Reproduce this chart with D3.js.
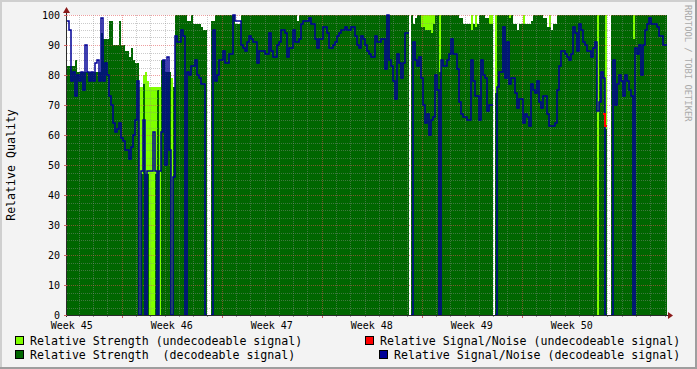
<!DOCTYPE html>
<html><head><meta charset="utf-8">
<script src="https://cdn.jsdelivr.net/npm/d3@7"></script>
<style>
html,body{margin:0;padding:0;background:#f3f3f3;}
svg{display:block;}
text{font-family:"DejaVu Sans Mono",monospace;}
</style>
</head><body>
<svg id="c" width="697" height="369"></svg>
<script>
const _ = null;
// time axis: 42 days shown, 300 samples (3.36 h each)
const totalDays = 42;
const weekLabels = ["Week 45","Week 46","Week 47","Week 48","Week 49","Week 50"];
const weekStarts = [-3.17, 3.83, 10.83, 17.83, 24.83, 31.83]; // days from graph start
const yTicks = [0,10,20,30,40,50,60,70,80,90,100];

// Relative Strength (decodeable signal)
const strengthDecodeable = [
83,83,83,83,85,81,81,81,81,81,
81,81,81,81,81,81,81,94,92,92,
92,98,98,90,90,90,98,90,90,88,
88,86,89,85,84,84,0,47,77,47,
47,0,0,0,47,75,0,85,85,81,
81,81,0,76,100,100,100,100,100,100,
98,98,100,97,97,97,97,96,95,95,
_,_,98,98,100,100,100,100,100,100,
100,100,100,100,97,97,97,100,100,100,
100,100,100,100,100,100,100,100,100,100,
100,100,100,100,100,100,100,100,100,100,
100,100,100,100,100,98,100,100,100,100,
100,100,100,100,100,100,100,100,100,100,
100,100,100,100,100,100,100,100,100,100,
100,100,100,100,100,100,100,100,100,100,
100,100,100,100,100,100,100,100,100,100,
100,100,100,100,100,100,100,100,100,100,
100,_,100,97,99,100,100,96,96,95,
95,95,94,97,100,100,81,100,100,100,
100,100,100,100,100,100,99,99,97,97,
97,97,95,97,96,97,100,100,100,99,
99,97,97,_,74,100,100,100,100,100,
100,99,100,97,97,95,97,97,97,97,
97,97,98,100,100,100,100,100,99,99,
96,96,95,97,97,100,100,100,100,100,
100,100,100,100,100,100,100,100,100,100,
100,100,100,100,100,0,100,100,100,62,
_,_,100,100,100,100,100,100,100,100,
100,100,100,92,100,100,100,100,100,100,
100,100,100,100,100,100,100,100,100,100
];

// Relative Strength (undecodeable signal)
const strengthUndecodeable = [
_,_,_,_,_,_,_,_,_,_,
_,_,_,_,_,_,_,_,_,_,
_,_,_,_,_,_,_,_,_,_,
_,_,_,_,_,_,76,76,80,81,
78,76,76,76,76,76,76,_,_,_,
_,_,79,_,_,_,_,_,_,_,
_,_,_,_,_,_,_,_,_,_,
_,_,_,_,_,_,_,_,_,_,
_,_,_,_,_,_,_,_,_,_,
_,_,_,_,_,_,_,_,_,_,
_,_,_,_,_,_,_,_,_,_,
_,_,_,_,_,_,_,_,_,_,
_,_,_,_,_,_,_,_,_,_,
_,_,_,_,_,_,_,_,_,_,
_,_,_,_,_,_,_,_,_,_,
_,_,_,_,_,_,_,_,_,_,
_,_,_,_,_,_,_,_,_,_,
_,_,_,_,_,_,_,100,100,100,
100,100,100,100,_,_,100,_,_,_,
_,_,_,_,_,_,_,_,_,_,
_,_,100,_,100,_,_,_,_,_,
_,100,100,_,100,_,_,_,_,_,
_,100,_,_,_,_,_,_,100,_,
_,_,_,_,_,_,_,_,_,_,
_,100,_,_,_,_,_,_,_,_,
_,_,_,_,_,_,_,_,_,_,
_,_,_,_,_,100,_,_,_,100,
_,_,_,_,_,_,_,_,_,_,
_,_,_,100,_,_,_,_,_,_,
_,_,_,_,_,_,_,_,_,_
];

// Relative Signal/Noise (decodeable signal)
const snrDecodeable = [
98,95,78,81,73,80,78,81,75,90,
81,78,81,78,84,85,78,99,78,84,
80,73,70,64,61,62,64,59,58,55,
55,52,56,60,65,78,0,48,65,0,
48,48,48,61,48,0,48,61,85,50,
86,55,0,46,93,91,91,95,93,0,
81,80,83,83,85,80,79,77,77,0,
_,_,0,95,78,80,85,85,88,84,
84,87,87,100,98,98,98,90,89,88,
91,93,92,91,91,84,88,88,88,87,
87,94,88,86,86,90,91,95,95,94,
86,89,89,95,91,91,92,97,98,98,
98,99,97,97,92,89,92,92,96,96,
94,89,89,90,91,93,94,95,95,96,
95,95,96,96,93,90,89,93,92,90,
88,87,86,86,93,91,91,92,92,82,
100,85,83,78,72,87,84,79,84,94,
94,_,0,91,85,83,86,79,70,64,
67,60,65,66,80,75,0,85,83,83,
85,87,92,87,87,82,71,67,66,66,
65,65,85,78,73,73,65,85,80,79,
68,70,70,_,0,76,81,81,96,79,
91,77,79,79,74,69,72,72,64,67,
66,63,77,75,74,78,71,69,73,73,
67,63,63,63,64,75,83,88,88,87,
86,85,87,96,94,88,97,95,91,90,
88,88,86,89,91,68,71,81,79,0,
_,_,0,85,70,77,80,78,73,80,
78,75,73,0,89,87,90,80,90,95,
97,99,97,97,97,96,93,93,90,90
];

// Relative Signal/Noise (undecodeable signal): only a short visible stretch
const snrUndecodeableSamples = [[268, 67], [269, 63]]; // [sample index, value]
const snrUndecodeable = new Array(strengthDecodeable.length).fill(_);
snrUndecodeableSamples.forEach(([i, v]) => { snrUndecodeable[i] = v; });

const legendItems = [
  {label: "Relative Strength (undecodeable signal)", color: "#80ff00", col: 0, row: 0},
  {label: "Relative Strength  (decodeable signal)", color: "#006600", col: 0, row: 1},
  {label: "Relative Signal/Noise (undecodeable signal)", color: "#ff0000", col: 1, row: 0},
  {label: "Relative Signal/Noise (decodeable signal)", color: "#000096", col: 1, row: 1}
];

const W = 697, H = 369;
const svg = d3.select("#c");
const x = d3.scaleLinear().domain([0, totalDays]).range([67, 667]);
const y = d3.scaleLinear().domain([0, 100]).range([315, 15]);
const step = totalDays / strengthDecodeable.length;

// background and 3D border
svg.append("rect").attr("width", W).attr("height", H).attr("fill", "#f3f3f3");
svg.append("rect").attr("x", 0).attr("y", 0).attr("width", W).attr("height", 2).attr("fill", "#cfcfcf");
svg.append("rect").attr("x", 0).attr("y", 0).attr("width", 2).attr("height", H).attr("fill", "#cfcfcf");
svg.append("rect").attr("x", 0).attr("y", H - 2).attr("width", W).attr("height", 2).attr("fill", "#9e9e9e");
svg.append("rect").attr("x", W - 2).attr("y", 0).attr("width", 2).attr("height", H).attr("fill", "#9e9e9e");

// plot canvas
svg.append("rect").attr("x", x(0)).attr("y", y(100)).attr("width", x(totalDays) - x(0)).attr("height", y(0) - y(100)).attr("fill", "#ffffff");

function toPts(arr) {
  const pts = [];
  arr.forEach((v, i) => {
    if (v == null) pts.push({t: i * step, v: null});
    else { pts.push({t: i * step, v}); pts.push({t: (i + 1) * step, v}); }
  });
  return pts;
}
const area = d3.area().defined(d => d.v != null).x(d => x(d.t)).y0(y(0)).y1(d => y(d.v));
const line = d3.line().defined(d => d.v != null).x(d => x(d.t)).y(d => y(d.v));

svg.append("path").attr("d", area(toPts(strengthUndecodeable))).attr("fill", "#80ff00").attr("shape-rendering", "crispEdges");
svg.append("path").attr("d", area(toPts(strengthDecodeable))).attr("fill", "#006600").attr("shape-rendering", "crispEdges");

// grid
const grid = svg.append("g");
const minorC = "rgba(140,140,140,0.45)", majorC = "rgba(224,80,80,0.55)";
for (let v = 0; v <= 100; v += 2.5) {
  const yy = Math.round(y(v)) + 0.5;
  grid.append("line").attr("x1", x(0)).attr("x2", x(totalDays)).attr("y1", yy).attr("y2", yy)
    .attr("stroke", v % 10 === 0 ? majorC : minorC).attr("stroke-dasharray", "1,1");
}
for (let d = weekStarts[0]; d <= totalDays; d += 1) {
  if (d < 0) continue;
  const isMajor = weekStarts.some(w => Math.abs(w - d) < 1e-6);
  const xx = Math.round(x(d)) + 0.5;
  grid.append("line").attr("x1", xx).attr("x2", xx).attr("y1", y(100)).attr("y2", y(0))
    .attr("stroke", isMajor ? majorC : minorC).attr("stroke-dasharray", "1,1");
  grid.append("line").attr("x1", xx).attr("x2", xx).attr("y1", y(0)).attr("y2", y(0) + (isMajor ? 3 : 2))
    .attr("stroke", isMajor ? "#d06060" : "#999");
}

// lines
svg.append("path").attr("d", line(toPts(snrDecodeable))).attr("fill", "none").attr("stroke", "#000096").attr("stroke-width", 1.5);
svg.append("path").attr("d", line(toPts(snrUndecodeable))).attr("fill", "none").attr("stroke", "#ff0000").attr("stroke-width", 2);

// axes
svg.append("line").attr("x1", x(0) - 0.5).attr("x2", x(totalDays) + 2).attr("y1", y(0) + 0.5).attr("y2", y(0) + 0.5).attr("stroke", "#2a2a2a");
svg.append("line").attr("x1", x(0) - 0.5).attr("x2", x(0) - 0.5).attr("y1", y(0) + 2).attr("y2", y(100) - 3).attr("stroke", "#2a2a2a");
svg.append("path").attr("d", `M${x(totalDays) + 1},${y(0) - 3}L${x(totalDays) + 6},${y(0) + 0.5}L${x(totalDays) + 1},${y(0) + 4}Z`).attr("fill", "#8b1a1a");
svg.append("path").attr("d", `M${x(0) - 4},${y(100) - 2}L${x(0) - 0.5},${y(100) - 8}L${x(0) + 3},${y(100) - 2}Z`).attr("fill", "#8b1a1a");

// y ticks & labels
yTicks.forEach(v => {
  const yy = Math.round(y(v)) + 0.5;
  svg.append("line").attr("x1", x(0) - 3).attr("x2", x(0)).attr("y1", yy).attr("y2", yy).attr("stroke", "#d06060");
  svg.append("text").attr("x", 60).attr("y", y(v) + 3.5).attr("text-anchor", "end").attr("font-size", 10).attr("fill", "#000").text(v);
});

// x labels (centered mid-week)
weekLabels.forEach((lab, k) => {
  svg.append("text").attr("x", x(weekStarts[k] + 3.5)).attr("y", 328.5).attr("text-anchor", "middle").attr("font-size", 10).attr("fill", "#000").text(lab);
});

// y title
svg.append("text").attr("transform", `translate(15,${165}) rotate(-90)`).attr("text-anchor", "middle").attr("font-size", 11.6).attr("fill", "#000").text("Relative Quality");

// watermark
svg.append("text").attr("transform", "translate(685,5) rotate(90)").attr("font-size", 8.8).attr("fill", "#aaaaaa").text("RRDTOOL / TOBI OETIKER");

// legend
const legendPos = [[{bx: 15, tx: 30}, {bx: 15, tx: 30}], [{bx: 365, tx: 380}, {bx: 379, tx: 394}]];
const rowY = [336, 350];
legendItems.forEach(it => {
  const p = legendPos[it.col][it.row];
  svg.append("rect").attr("x", p.bx + 0.5).attr("y", rowY[it.row] + 0.5).attr("width", 8).attr("height", 8)
    .attr("fill", it.color).attr("stroke", "#000").attr("stroke-width", 1);
  svg.append("text").attr("x", p.tx).attr("y", rowY[it.row] + 8.7).attr("font-size", 11.6).attr("fill", "#000")
    .style("white-space", "pre").text(it.label);
});
</script>
</body></html>
